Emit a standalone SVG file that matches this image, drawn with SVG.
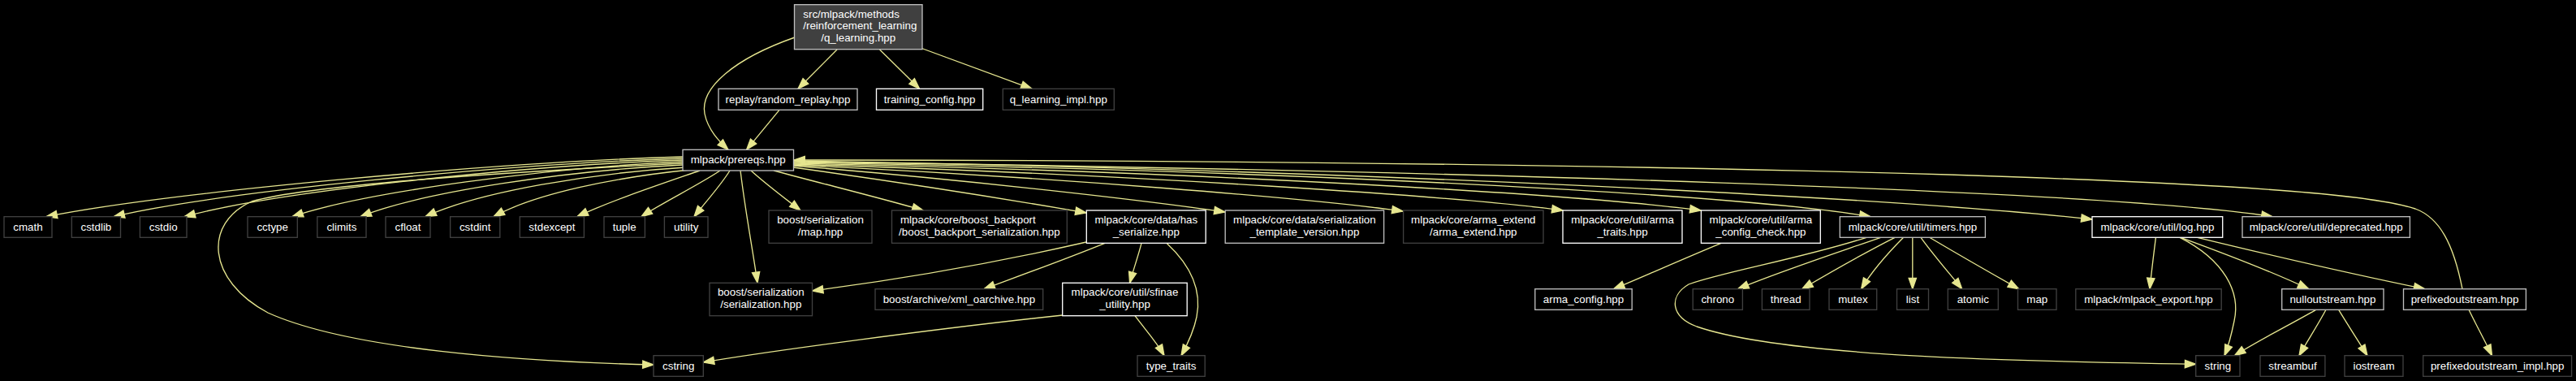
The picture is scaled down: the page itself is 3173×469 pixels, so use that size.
<svg xmlns="http://www.w3.org/2000/svg" width="3173" height="469" viewBox="0 0 3173 469">
<defs>
<style>
.bg{fill:#000}
.n rect{fill:#000;stroke-width:1.33}
.d rect{stroke:#404040}
.l rect{stroke:#bfbfbf}
.w rect{stroke:#ffffff}
.r rect{fill:#404040;stroke:#bfbfbf}
text{font-family:"Liberation Sans",Arial,Helvetica,sans-serif;font-size:13.33px;fill:#ffffff;text-anchor:middle}
text.s{text-anchor:start}
.e path{fill:none;stroke:#e6e68f;stroke-width:1.33;marker-end:url(#a)}
</style>
<marker id="a" markerUnits="userSpaceOnUse" viewBox="0 0 14 10" markerWidth="14" markerHeight="10" refX="13.3" refY="4.67" orient="auto" overflow="visible">
<path d="M0,0 L13.3,4.67 L0,9.33 Z" fill="#e6e68f" stroke="#e6e68f" stroke-width="1.33" stroke-linejoin="miter"/>
</marker>
</defs>
<rect class="bg" x="0" y="0" width="3173" height="469"/>

<g id="edges" class="e">
<path d="M1031,61 L983,109.3"/>
<path d="M1083.5,61 L1132.6,109.3"/>
<path d="M1134,59 L1271,109.3"/>
<path d="M979,46 C905,72 862,108 868,140 C872,160 886,174 897,184.3"/>
<path d="M960,135.3 L919.6,184.3"/>
<path d="M841,193 C600,200 200,238 57,266.7"/>
<path d="M841,195 C620,202 270,236 140,266.7"/>
<path d="M841,197 C640,204 340,236 227,266.7"/>
<path d="M841,201 C620,212 380,228 310,248 C250,275 255,345 330,385 C430,430 640,445 805,449"/>
<path d="M841,199 C680,206 450,236 360,266.7"/>
<path d="M841,203 C700,210 520,236 444,266.7"/>
<path d="M845,206 C730,213 590,236 524,266.7"/>
<path d="M850,209 C760,218 660,238 608,266.7"/>
<path d="M862,210 C810,228 750,248 711,266.7"/>
<path d="M887,210 C860,228 815,250 790,266.7"/>
<path d="M899,210 C888,228 868,250 855,266.7"/>
<path d="M912,210 C918,260 926,300 933,348.3"/>
<path d="M925,210 C945,228 968,245 986,259"/>
<path d="M953,210 C1020,228 1090,245 1137,259"/>
<path d="M977,206 C1150,230 1280,252 1338,262"/>
<path d="M977,204 C1200,222 1420,248 1509,261"/>
<path d="M977,203 C1300,218 1620,245 1728,260"/>
<path d="M977,202 C1400,215 1800,242 1925,259"/>
<path d="M977,201 C1500,212 1950,240 2095,259"/>
<path d="M977,200 C1600,210 2150,240 2304,266.7"/>
<path d="M977,198 C1700,210 2350,245 2577,270"/>
<path d="M977,199 C1800,210 2600,235 2799,266.7"/>
<path d="M3033,355.7 C3022,300 3005,268 2975,257 C2930,242 2800,228 2400,215 C1900,200 1300,197 978,197"/>
<path d="M1338,298 C1220,325 1100,345 1000.5,358"/>
<path d="M1361,299.3 C1310,320 1260,338 1212,355.7"/>
<path d="M1406,299.3 C1402,315 1396,332 1391.6,348.3"/>
<path d="M1437,299.3 C1470,330 1480,360 1474,390 C1470,410 1462,425 1455,437.7"/>
<path d="M1398,388.7 C1410,405 1424,420 1434,437.7"/>
<path d="M1309,388 C1150,405 950,432 866.3,446"/>
<path d="M2120,299.3 C2070,320 2030,338 1987.6,355.7"/>
<path d="M2316.6,292.3 C2260,312 2190,335 2140.6,355.7"/>
<path d="M2334,292.3 C2295,312 2255,335 2219.7,355.7"/>
<path d="M2344.6,292.3 C2325,312 2305,335 2292.6,355.7"/>
<path d="M2355.8,292.3 L2355.8,355.7"/>
<path d="M2366,292.3 C2380,312 2400,335 2416.7,355.7"/>
<path d="M2376.7,292.3 C2410,312 2450,335 2486.7,355.7"/>
<path d="M2299,292.3 C2220,318 2120,335 2080,350 C2055,365 2058,390 2090,402 C2200,440 2500,445 2704.7,448.3"/>
<path d="M2655.4,292.3 C2653,312 2650,335 2648,355.7"/>
<path d="M2685,292.3 C2740,320 2760,360 2752,395 C2748,415 2744,428 2740,437.7"/>
<path d="M2686,292.3 C2740,312 2800,335 2843.7,355.7"/>
<path d="M2706.6,292.3 C2800,315 2900,338 2986.7,355.7"/>
<path d="M2852.6,381.3 C2820,400 2780,420 2752.5,437.7"/>
<path d="M2865,381.3 C2855,400 2842,420 2832,437.7"/>
<path d="M2880.7,381.3 C2892,400 2905,420 2916,437.7"/>
<path d="M3041,381.3 C3050,400 3061,420 3069.5,437.7"/>
</g>

<g id="n_root" class="n r"><rect x="978.5" y="5.7" width="157.5" height="55"/><text class="s" x="989.3" y="21.6">src/mlpack/methods</text><text class="s" x="989.3" y="36.3">/reinforcement_learning</text><text x="1057.2" y="51">/q_learning.hpp</text></g>
<g id="n_replay" class="n l"><rect x="885" y="109.3" width="171" height="26"/><text x="970.5" y="126.6">replay/random_replay.hpp</text></g>
<g id="n_training_config" class="n w"><rect x="1079.5" y="109.3" width="131.2" height="26"/><text x="1145.1" y="126.6">training_config.hpp</text></g>
<g id="n_q_learning_impl" class="n d"><rect x="1235.3" y="109.3" width="137" height="26"/><text x="1303.8" y="126.6">q_learning_impl.hpp</text></g>
<g id="n_prereqs" class="n l"><rect x="841" y="184.3" width="136.5" height="25.7"/><text x="909.2" y="201.3">mlpack/prereqs.hpp</text></g>

<g id="n_cmath" class="n d"><rect x="5" y="266.7" width="59" height="25.6"/><text x="34.5" y="283.7">cmath</text></g>
<g id="n_cstdlib" class="n d"><rect x="88.3" y="266.7" width="60.2" height="25.6"/><text x="118.4" y="283.7">cstdlib</text></g>
<g id="n_cstdio" class="n d"><rect x="172.4" y="266.7" width="57.6" height="25.6"/><text x="201.2" y="283.7">cstdio</text></g>
<g id="n_cctype" class="n d"><rect x="305" y="266.7" width="61.3" height="25.6"/><text x="335.7" y="283.7">cctype</text></g>
<g id="n_climits" class="n d"><rect x="390.8" y="266.7" width="60.2" height="25.6"/><text x="420.9" y="283.7">climits</text></g>
<g id="n_cfloat" class="n d"><rect x="475" y="266.7" width="55" height="25.6"/><text x="502.5" y="283.7">cfloat</text></g>
<g id="n_cstdint" class="n d"><rect x="554.6" y="266.7" width="61.2" height="25.6"/><text x="585.2" y="283.7">cstdint</text></g>
<g id="n_stdexcept" class="n d"><rect x="640.3" y="266.7" width="79.1" height="25.6"/><text x="679.9" y="283.7">stdexcept</text></g>
<g id="n_tuple" class="n d"><rect x="744" y="266.7" width="50.4" height="25.6"/><text x="769.2" y="283.7">tuple</text></g>
<g id="n_utility" class="n d"><rect x="818.4" y="266.7" width="53.6" height="25.6"/><text x="845.2" y="283.7">utility</text></g>
<g id="n_map_hpp" class="n d"><rect x="947" y="259" width="127" height="40.3"/><text x="1010.5" y="275">boost/serialization</text><text x="1010.5" y="289.7">/map.hpp</text></g>
<g id="n_boost_backport" class="n d"><rect x="1098.5" y="259" width="215.8" height="40.3"/><text class="s" x="1109" y="275">mlpack/core/boost_backport</text><text x="1206.4" y="289.7">/boost_backport_serialization.hpp</text></g>
<g id="n_has_serialize" class="n w"><rect x="1338.3" y="259" width="146.9" height="40.3"/><text x="1411.8" y="275">mlpack/core/data/has</text><text x="1411.8" y="289.7">_serialize.hpp</text></g>
<g id="n_serialization_template_version" class="n l"><rect x="1509.2" y="259" width="195.4" height="40.3"/><text x="1606.9" y="275">mlpack/core/data/serialization</text><text x="1606.9" y="289.7">_template_version.hpp</text></g>
<g id="n_arma_extend" class="n d"><rect x="1728.6" y="259" width="172.4" height="40.3"/><text x="1814.8" y="275">mlpack/core/arma_extend</text><text x="1814.8" y="289.7">/arma_extend.hpp</text></g>
<g id="n_arma_traits" class="n w"><rect x="1925" y="259" width="147" height="40.3"/><text x="1998.5" y="275">mlpack/core/util/arma</text><text x="1998.5" y="289.7">_traits.hpp</text></g>
<g id="n_arma_config_check" class="n w"><rect x="2095.4" y="259" width="146.9" height="40.3"/><text x="2168.9" y="275">mlpack/core/util/arma</text><text x="2168.9" y="289.7">_config_check.hpp</text></g>
<g id="n_timers" class="n l"><rect x="2266.3" y="266.7" width="179.1" height="25.6"/><text x="2355.9" y="283.7">mlpack/core/util/timers.hpp</text></g>
<g id="n_log" class="n w"><rect x="2577" y="266.7" width="160.7" height="25.6"/><text x="2657.4" y="283.7">mlpack/core/util/log.hpp</text></g>
<g id="n_deprecated" class="n l"><rect x="2762" y="266.7" width="206.4" height="25.6"/><text x="2865.2" y="283.7">mlpack/core/util/deprecated.hpp</text></g>

<g id="n_serialization_hpp" class="n d"><rect x="874" y="348.3" width="126.5" height="40.4"/><text x="937.3" y="364.3">boost/serialization</text><text x="937.3" y="379">/serialization.hpp</text></g>
<g id="n_xml_oarchive" class="n d"><rect x="1078" y="355.7" width="206.7" height="25.6"/><text x="1181.4" y="372.7">boost/archive/xml_oarchive.hpp</text></g>
<g id="n_sfinae" class="n w"><rect x="1308.7" y="348.3" width="153.5" height="40.4"/><text x="1385.5" y="364.3">mlpack/core/util/sfinae</text><text x="1385.5" y="379">_utility.hpp</text></g>
<g id="n_arma_config" class="n l"><rect x="1890.8" y="355.7" width="119.4" height="25.6"/><text x="1950.5" y="372.7">arma_config.hpp</text></g>
<g id="n_chrono" class="n d"><rect x="2085.2" y="355.7" width="61.2" height="25.6"/><text x="2115.8" y="372.7">chrono</text></g>
<g id="n_thread" class="n d"><rect x="2170.4" y="355.7" width="58.6" height="25.6"/><text x="2199.7" y="372.7">thread</text></g>
<g id="n_mutex" class="n d"><rect x="2253" y="355.7" width="58.7" height="25.6"/><text x="2282.4" y="372.7">mutex</text></g>
<g id="n_list" class="n d"><rect x="2336.5" y="355.7" width="39" height="25.6"/><text x="2356" y="372.7">list</text></g>
<g id="n_atomic" class="n d"><rect x="2399.3" y="355.7" width="62" height="25.6"/><text x="2430.3" y="372.7">atomic</text></g>
<g id="n_map" class="n d"><rect x="2485.5" y="355.7" width="47.5" height="25.6"/><text x="2509.3" y="372.7">map</text></g>
<g id="n_mlpack_export" class="n d"><rect x="2556.8" y="355.7" width="179.4" height="25.6"/><text x="2646.5" y="372.7">mlpack/mlpack_export.hpp</text></g>
<g id="n_nulloutstream" class="n l"><rect x="2810.7" y="355.7" width="125.3" height="25.6"/><text x="2873.4" y="372.7">nulloutstream.hpp</text></g>
<g id="n_prefixedoutstream" class="n l"><rect x="2960.5" y="355.7" width="150.9" height="25.6"/><text x="3036" y="372.7">prefixedoutstream.hpp</text></g>

<g id="n_cstring" class="n d"><rect x="805" y="437.7" width="61.3" height="25.6"/><text x="835.7" y="454.7">cstring</text></g>
<g id="n_type_traits" class="n d"><rect x="1401" y="437.7" width="83.2" height="25.6"/><text x="1442.6" y="454.7">type_traits</text></g>
<g id="n_string" class="n d"><rect x="2704.7" y="437.7" width="54.3" height="25.6"/><text x="2731.9" y="454.7">string</text></g>
<g id="n_streambuf" class="n d"><rect x="2784" y="437.7" width="79.9" height="25.6"/><text x="2824" y="454.7">streambuf</text></g>
<g id="n_iostream" class="n d"><rect x="2888" y="437.7" width="72" height="25.6"/><text x="2924" y="454.7">iostream</text></g>
<g id="n_prefixedoutstream_impl" class="n d"><rect x="2984.7" y="437.7" width="182.9" height="25.6"/><text x="3076.2" y="454.7">prefixedoutstream_impl.hpp</text></g>
</svg>
